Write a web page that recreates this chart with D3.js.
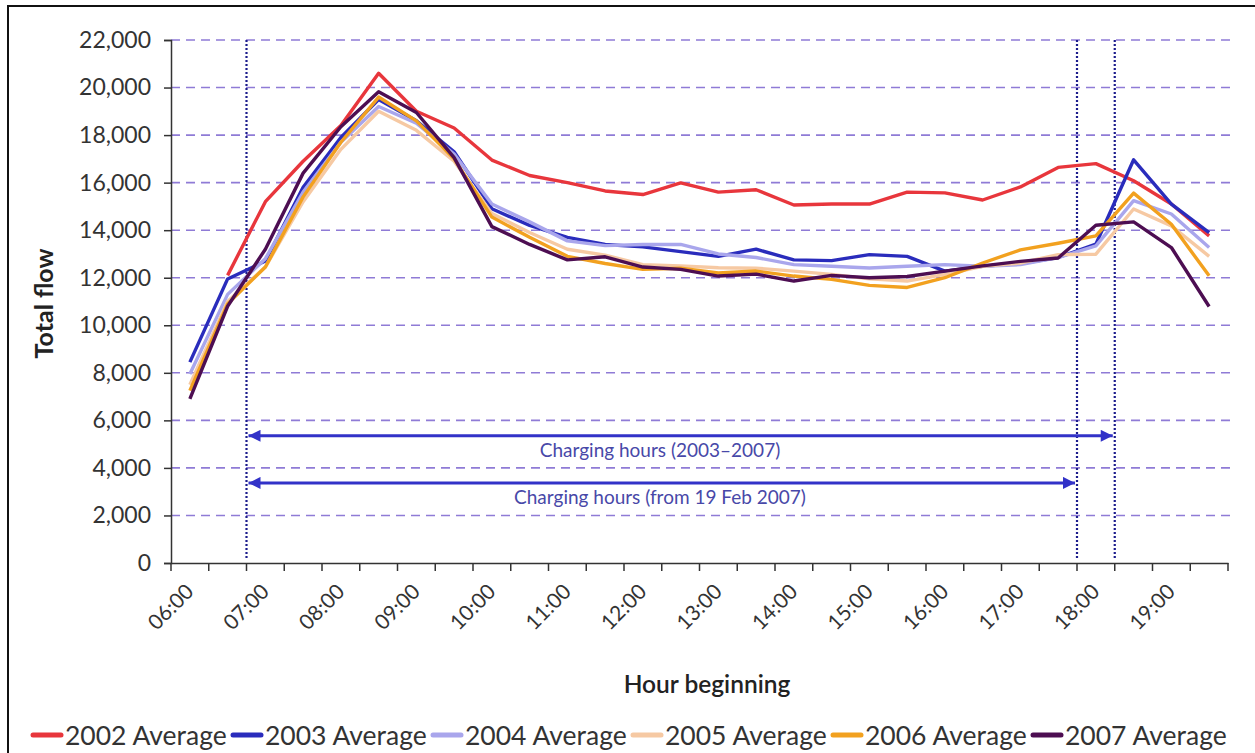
<!DOCTYPE html>
<html>
<head>
<meta charset="utf-8">
<script src="https://cdn.jsdelivr.net/npm/d3@7"></script>
<style>
  html, body { margin: 0; padding: 0; background: #ffffff; }
  svg { display: block; }
  text { font-family: Lato, "Open Sans", sans-serif; }
</style>
</head>
<body>
<svg id="chart" width="1255" height="753"></svg>
<script>
// ---------- data ----------
const categories = ["06:00","06:30","07:00","07:30","08:00","08:30","09:00","09:30","10:00","10:30",
  "11:00","11:30","12:00","12:30","13:00","13:30","14:00","14:30","15:00","15:30",
  "16:00","16:30","17:00","17:30","18:00","18:30","19:00","19:30"];
const hourLabels = ["06:00","07:00","08:00","09:00","10:00","11:00","12:00","13:00","14:00","15:00","16:00","17:00","18:00","19:00"];
const yTicks = [0, 2000, 4000, 6000, 8000, 10000, 12000, 14000, 16000, 18000, 20000, 22000];

const seriesNames = ["2002 Average","2003 Average","2004 Average","2005 Average","2006 Average","2007 Average"];
const avg2002 = [null, 12100, 15200, 16900, 18400, 20600, 19000, 18300, 16950, 16300, 16000, 15650, 15500, 15990, 15600, 15700, 15060, 15100, 15100, 15600, 15570, 15270, 15820, 16640, 16800, 16080, 15100, 13760];
const avg2003 = [8450, 11950, 12700, 15800, 17900, 19500, 18600, 17300, 14900, 14200, 13700, 13400, 13300, 13100, 12900, 13200, 12750, 12720, 12970, 12900, 12280, 12480, 12600, 12850, 13410, 16960, 15100, 13900];
const avg2004 = [7950, 11300, 12800, 15600, 17700, 19200, 18500, 17200, 15100, 14350, 13550, 13350, 13400, 13400, 13000, 12850, 12550, 12480, 12410, 12480, 12550, 12480, 12550, 12850, 13340, 15240, 14680, 13270];
const avg2005 = [7500, 11000, 12450, 15200, 17400, 19000, 18200, 16900, 14700, 13900, 13200, 12950, 12550, 12500, 12420, 12400, 12280, 12140, 11950, 11860, 12140, 12480, 12620, 12970, 12990, 14890, 14180, 12900];
const avg2006 = [7250, 10900, 12450, 15400, 17700, 19600, 18600, 17000, 14550, 13700, 12900, 12600, 12350, 12400, 12200, 12280, 12070, 11930, 11680, 11590, 12000, 12620, 13170, 13450, 13760, 15560, 14250, 12080];
const avg2007 = [6900, 10800, 13200, 16400, 18350, 19820, 18950, 17050, 14150, 13400, 12750, 12880, 12450, 12350, 12070, 12150, 11860, 12100, 12000, 12050, 12280, 12500, 12690, 12830, 14210, 14350, 13270, 10790];
const seriesValues = [avg2002, avg2003, avg2004, avg2005, avg2006, avg2007];
const seriesColors = ["#e8363c", "#2a2cbc", "#a9a6ec", "#f6c9a3", "#f2a11f", "#4d0e52"];

const markerHours = ["07:00", "18:00", "18:30"];
const annotationLabels = ["Charging hours (2003\u20132007)", "Charging hours (from 19 Feb 2007)"];
const annotationStart = ["07:00", "07:00"];
const annotationEnd = ["18:30", "18:00"];
const annotationLevel = [5350, 3370];

// ---------- layout ----------
const svg = d3.select("#chart");
const margin = { left: 171, right: 1228, top: 40, bottom: 563 };

const x = d3.scaleBand().domain(categories).range([margin.left, margin.right]).paddingInner(0).paddingOuter(0);
const y = d3.scaleLinear().domain([0, 22000]).range([margin.bottom, margin.top]);
const xc = c => x(c) + x.bandwidth() / 2;

// frame
svg.append("rect").attr("x", 8).attr("y", 6).attr("width", 1262).attr("height", 770)
  .attr("fill", "#ffffff").attr("stroke", "#111").attr("stroke-width", 2);

// gridlines
svg.append("g").selectAll("line").data(yTicks.filter(v => v > 0)).join("line")
  .attr("x1", margin.left).attr("x2", margin.right + 2)
  .attr("y1", d => y(d)).attr("y2", d => y(d))
  .attr("stroke", "#8f7bd6").attr("stroke-width", 1.6).attr("stroke-dasharray", "9,6");

// vertical dotted markers
svg.append("g").selectAll("line").data(markerHours).join("line")
  .attr("x1", d => x(d)).attr("x2", d => x(d))
  .attr("y1", y(22000)).attr("y2", y(0) - 4)
  .attr("stroke", "#1c1c8c").attr("stroke-width", 2.2).attr("stroke-dasharray", "2,2");

// axes
const yAxis = d3.axisLeft(y).tickValues(yTicks).tickSize(7).tickPadding(13).tickFormat(d3.format(","));
const gy = svg.append("g").attr("transform", `translate(${margin.left},0)`).call(yAxis);
gy.select(".domain").attr("stroke", "#333").attr("stroke-width", 1.5);
gy.selectAll(".tick line").attr("stroke", "#333").attr("stroke-width", 1.5);
gy.selectAll(".tick text").attr("font-size", 23).attr("fill", "#333").attr("font-family", "Lato");

const xAxis = d3.axisBottom(x).tickSize(0).tickFormat("");
const gx = svg.append("g").attr("transform", `translate(0,${margin.bottom})`).call(xAxis);
gx.select(".domain").attr("stroke", "#333").attr("stroke-width", 1.5);
gx.selectAll(".tick").remove();
// ticks at category boundaries
svg.append("g").selectAll("line").data(categories.concat(["end"])).join("line")
  .attr("x1", d => d === "end" ? margin.right : x(d))
  .attr("x2", d => d === "end" ? margin.right : x(d))
  .attr("y1", margin.bottom).attr("y2", margin.bottom + 8)
  .attr("stroke", "#333").attr("stroke-width", 1.5);

// x tick labels (rotated)
svg.append("g").selectAll("text").data(hourLabels).join("text")
  .attr("transform", d => `translate(${xc(d) + 5},${margin.bottom + 30}) rotate(-45)`)
  .attr("text-anchor", "end")
  .attr("font-size", 21).attr("fill", "#333")
  .text(d => d);

// axis titles
svg.append("text").attr("transform", `translate(53,${(margin.top + margin.bottom) / 2 + 2}) rotate(-90)`)
  .attr("text-anchor", "middle").attr("font-size", 25).attr("font-weight", 700).attr("fill", "#222")
  .text("Total flow");
svg.append("text").attr("x", 707).attr("y", 693)
  .attr("text-anchor", "middle").attr("font-size", 24.5).attr("font-weight", 600).attr("fill", "#222")
  .text("Hour beginning");

// annotations (arrows)
const defs = svg.append("defs");
defs.append("marker").attr("id", "arrowEnd").attr("viewBox", "0 0 10 10").attr("refX", 10).attr("refY", 5)
  .attr("markerWidth", 4.5).attr("markerHeight", 4).attr("orient", "auto").attr("markerUnits", "strokeWidth")
  .append("path").attr("d", "M0,0 L10,5 L0,10 Z").attr("fill", "#3232c8");
defs.append("marker").attr("id", "arrowStart").attr("viewBox", "0 0 10 10").attr("refX", 0).attr("refY", 5)
  .attr("markerWidth", 4.5).attr("markerHeight", 4).attr("orient", "auto").attr("markerUnits", "strokeWidth")
  .append("path").attr("d", "M10,0 L0,5 L10,10 Z").attr("fill", "#3232c8");

const ann = svg.append("g");
annotationLabels.forEach((lab, i) => {
  ann.append("line")
    .attr("x1", x(annotationStart[i]) + 2).attr("x2", x(annotationEnd[i]) - 2)
    .attr("y1", y(annotationLevel[i])).attr("y2", y(annotationLevel[i]))
    .attr("stroke", "#3232c8").attr("stroke-width", 3)
    .attr("marker-start", "url(#arrowStart)").attr("marker-end", "url(#arrowEnd)");
  ann.append("text")
    .attr("x", 660).attr("y", y(annotationLevel[i]) + 21)
    .attr("text-anchor", "middle").attr("font-size", 19).attr("fill", "#4848a8")
    .text(lab);
});

// series lines
const line = d3.line()
  .defined(d => d.v !== null)
  .x(d => xc(d.c))
  .y(d => y(d.v));

const lines = svg.append("g");
seriesNames.forEach((name, i) => {
  const pts = categories.map((c, j) => ({ c, v: seriesValues[i][j] }));
  lines.append("path").datum(pts)
    .attr("d", line)
    .attr("fill", "none")
    .attr("stroke", seriesColors[i])
    .attr("stroke-width", 3.4)
    .attr("stroke-linejoin", "round");
});

// legend
const lx = d3.scaleBand().domain(seriesNames).range([28, 1228]);
const lg = svg.append("g").selectAll("g").data(seriesNames).join("g")
  .attr("transform", d => `translate(${lx(d)},735)`);
lg.append("line").attr("x1", 5).attr("x2", 33).attr("y1", 0).attr("y2", 0)
  .attr("stroke", (d, i) => seriesColors[i]).attr("stroke-width", 5).attr("stroke-linecap", "round");
lg.append("text").attr("x", 37).attr("y", 10).attr("font-size", 26.5).attr("fill", "#333")
  .text(d => d);
</script>
</body>
</html>
